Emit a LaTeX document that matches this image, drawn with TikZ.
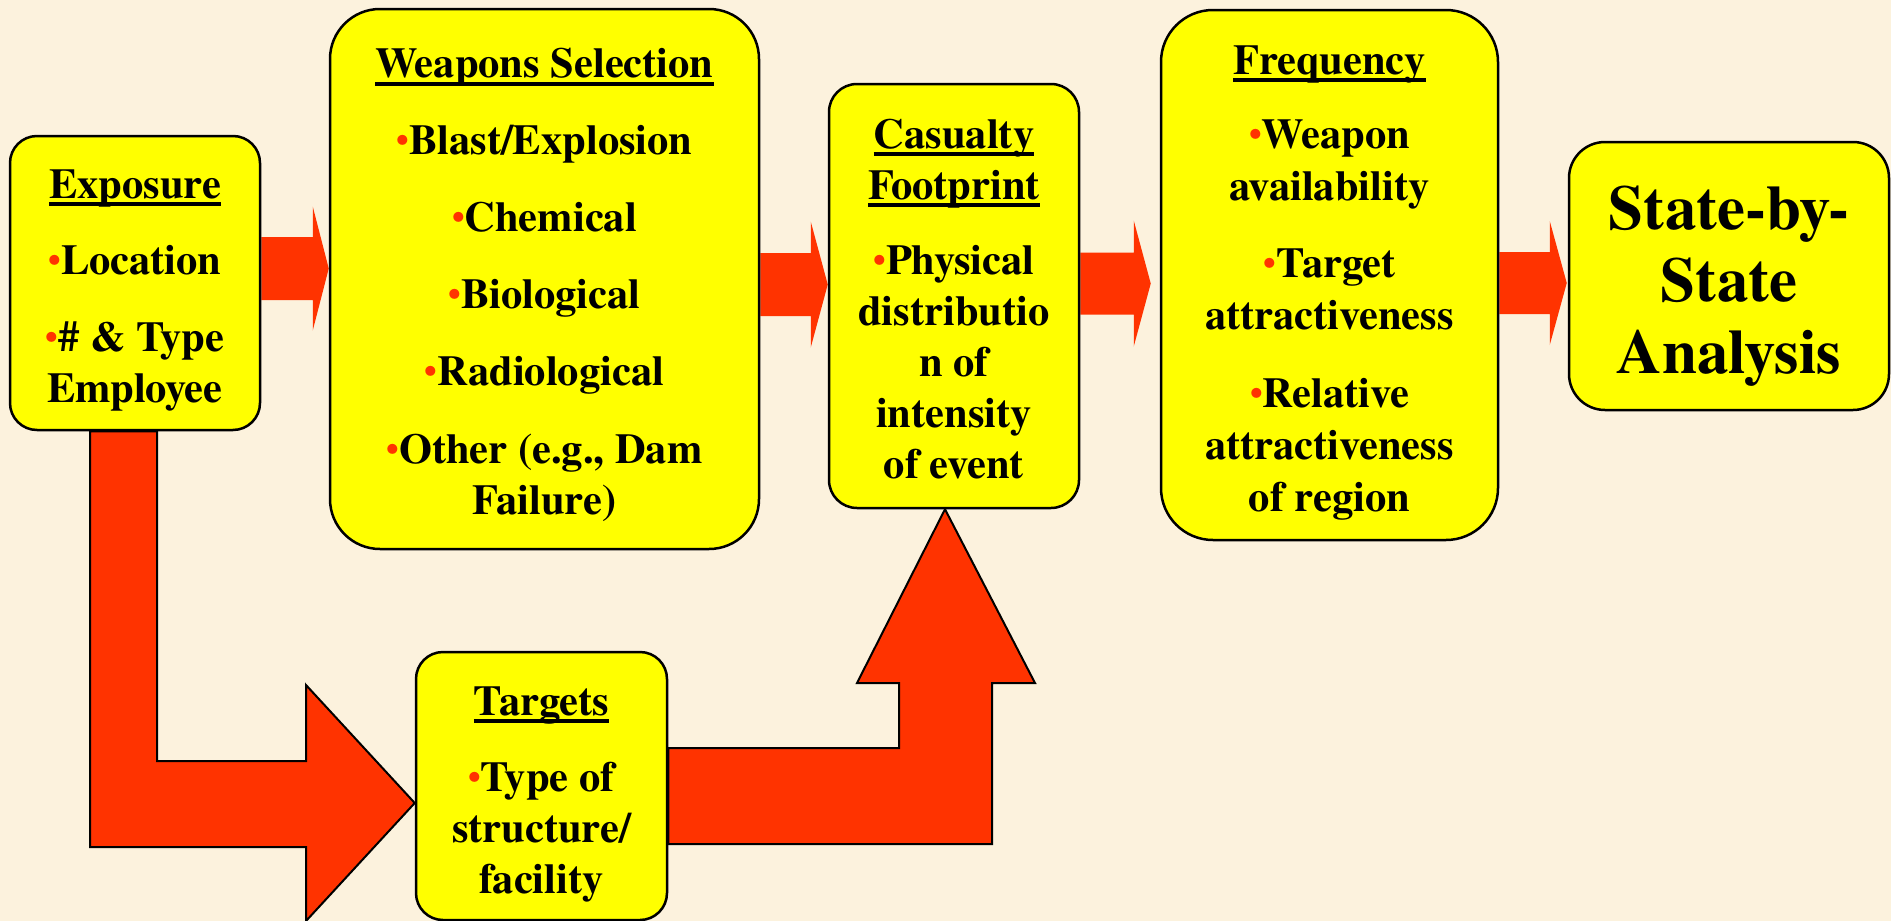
\documentclass[tikz,border=0pt]{standalone}
\usepackage{fontspec}
\setmainfont{texgyretermes}[Extension=.otf, UprightFont=*-regular, BoldFont=*-bold]
\usetikzlibrary{calc,backgrounds}
\definecolor{bgc}{RGB}{252,242,221}
\definecolor{boxy}{RGB}{255,255,0}
\definecolor{arr}{RGB}{255,51,0}
\newsavebox\ulbox
\newcommand{\ulx}[1]{\sbox\ulbox{#1}\rlap{\rule[-8pt]{\wd\ulbox}{4pt}}\usebox\ulbox}
\newcommand{\bul}{{\color{arr}\fontsize{36}{36}\selectfont\raisebox{2pt}{•}}}
% horizontal block arrow: from, to, ycentre, shaft half, head half, head length, gap
\newcommand{\harr}[7]{%
  \fill[arr] (#1.east |- 0,#3-#4)
    -- ($(#2.west |- 0,#3-#4)+(-#6-#7,0)$)
    -- ($(#2.west |- 0,#3-#5)+(-#6-#7,0)$)
    -- ($(#2.west |- 0,#3)+(-#7,0)$)
    -- ($(#2.west |- 0,#3+#5)+(-#6-#7,0)$)
    -- ($(#2.west |- 0,#3+#4)+(-#6-#7,0)$)
    -- (#1.east |- 0,#3+#4) -- cycle;}
\begin{document}
\begin{tikzpicture}[x=1pt,y=-1pt,
  box/.style={draw=black, line width=2.5pt, fill=boxy, inner sep=0pt},
  txt/.style={align=center, inner sep=0pt, font=\bfseries\fontsize{42.5}{51}\selectfont},
  larrow/.style={fill=arr, draw=black, line width=2pt, line join=miter}]
\useasboundingbox (0,0) rectangle (1891,921);

\node[box, rounded corners=27pt, minimum width=250pt, minimum height=294pt] (exp) at (135,283) {};
\node[txt] (expt) at ([yshift=-7pt]exp.center)
  {\ulx{Exposure}\\[25pt]\bul Location\\[26pt]\bul\# \& Type\\Employee};

\node[box, rounded corners=50pt, minimum width=429pt, minimum height=540pt] (wea) at (544.5,279) {};
\node[txt] (weat) at ([yshift=-6pt]wea.center)
  {\ulx{Weapons Selection}\\[26pt]\bul Blast/Explosion\\[26pt]\bul Chemical\\[26pt]\bul Biological\\[26pt]\bul Radiological\\[27pt]\bul Other (e.g., Dam\\Failure)};

\node[box, rounded corners=28pt, minimum width=250pt, minimum height=424pt] (cas) at (954,296) {};
\node[txt] (cast) at ([yshift=-3pt]cas.center)
  {\ulx{Casualty}\\\ulx{Footprint}\\[24pt]\bul Physical\\distributio\\n of\\intensity\\of event};

\node[box, rounded corners=52pt, minimum width=337pt, minimum height=530pt] (fre) at (1329.5,275) {};
\node[txt, font=\bfseries\fontsize{42.5}{52}\selectfont] (fret) at ([yshift=-8pt]fre.center)
  {\ulx{Frequency}\\[22pt]\bul Weapon\\availability\\[25pt]\bul Target\\attractiveness\\[26pt]\bul Relative\\attractiveness\\of region};

\node[box, rounded corners=36pt, minimum width=320pt, minimum height=268pt] (sta) at (1729,276) {};
\node[txt, font=\bfseries\fontsize{63}{72}\selectfont] (stat) at ([yshift=-10pt]sta.center)
  {State-by-\\State\\Analysis};

\node[box, rounded corners=27pt, minimum width=251pt, minimum height=268pt] (tar) at (541.5,786) {};
\node[txt] (tart) at ([yshift=-8pt]tar.center)
  {\ulx{Targets}\\[25pt]\bul Type of\\structure/\\facility};

\begin{pgfonlayer}{background}
\fill[bgc] (0,0) rectangle (1891,921);
\harr{exp}{wea}{268.5}{31.5}{62}{16}{0}
\harr{wea}{cas}{284.5}{31.5}{63}{17}{0}
\harr{cas}{fre}{283.5}{31}{63}{17}{9}
\harr{fre}{sta}{283}{31}{62}{17}{1}
\draw[larrow] (exp.south -| 90,0) -- (90,847) -- (306,847) -- (306,921)
  -- (tar.west |- 0,803) -- (306,685) -- (306,761) -- (157,761) -- (exp.south -| 157,0) -- cycle;
\draw[larrow] (tar.east |- 0,748) -- (899,748) -- (899,683) -- (857,683)
  -- (cas.south -| 945,0) -- (1035,683) -- (992,683) -- (992,844) -- (tar.east |- 0,844) -- cycle;
\end{pgfonlayer}
\end{tikzpicture}
\end{document}
